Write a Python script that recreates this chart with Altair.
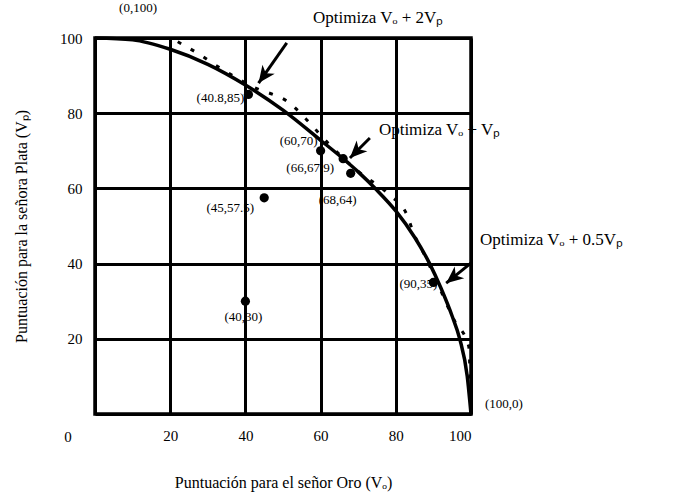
import altair as alt
import pandas as pd

# Frontera de puntuaciones (curva continua)
solid_x = [0, 10, 20, 30, 40, 50, 60, 66, 70, 75, 80, 85, 89, 92, 95, 97, 99, 100]
solid_y = [100, 99.5, 97, 93, 87.5, 80.8, 72.8, 67.9, 64.4, 59.5, 54, 47, 40, 33.5, 26, 20, 10, 0]

# Frontera alternativa (curva discontinua)
dashed_x = [22, 28, 32.5, 42, 52, 57, 62, 70, 78, 83, 84.6, 87, 91, 95.5, 99.4, 100]
dashed_y = [99, 95.5, 92.5, 87, 82.5, 77.5, 72, 64.5, 58.5, 52.9, 48.4, 43.6, 35, 25, 18, 0]

# Acuerdos posibles
pt_x = [0, 40.8, 60, 66, 68, 45, 40, 90, 100]
pt_y = [100, 85, 70, 67.9, 64, 57.5, 30, 35, 0]
pt_label = ["(0,100)", "(40.8,85)", "(60,70)", "(66,67.9)", "(68,64)",
            "(45,57.5)", "(40,30)", "(90,35)", "(100,0)"]
# Los extremos de la frontera se rotulan sin punto
pt_dot = [False, True, True, True, True, True, True, True, False]

# Flechas: origen (x0, y0) y punta (x1, y1)
arrow_x0 = [51, 73.1, 100.3]
arrow_y0 = [98.7, 73.4, 40.4]
arrow_x1 = [43.5, 67.8, 93.4]
arrow_y1 = [88, 68.1, 34.8]

# Rótulos de las flechas
note_text = ["Optimiza Vₒ + 2Vₚ", "Optimiza Vₒ + Vₚ", "Optimiza Vₒ + 0.5Vₚ"]
note_x = [58, 75.5, 102.4]
note_y = [105.3, 75.5, 46.3]

FONT = "Liberation Serif"
W = H = 376

solid = pd.DataFrame({"x": solid_x, "y": solid_y})
dashed = pd.DataFrame({"x": dashed_x, "y": dashed_y})
pts = pd.DataFrame({"x": pt_x, "y": pt_y, "label": pt_label, "dot": pt_dot})
arrows = pd.DataFrame({"x0": arrow_x0, "y0": arrow_y0, "x1": arrow_x1, "y1": arrow_y1,
                       "ang": [216, 225, 231]})
notes = pd.DataFrame({"x": note_x, "y": note_y, "t": note_text})

ticks = [0, 20, 40, 60, 80, 100]
xs = alt.Scale(domain=[0, 100], nice=False)
ys = alt.Scale(domain=[0, 100], nice=False)

axis_common = dict(values=ticks, grid=True, gridColor="black", gridWidth=3,
                   gridOpacity=1, domain=False, ticks=False,
                   labelExpr="datum.value == 0 ? '' : datum.label",
                   labelFont=FONT, labelFontSize=15, labelColor="black",
                   titleFont=FONT, titleFontSize=16, titleFontWeight="normal",
                   titleColor="black")

x_enc = alt.X("x:Q", scale=xs,
              axis=alt.Axis(title="Puntuación para el señor Oro (Vₒ)",
                            labelPadding=14, titlePadding=31, **axis_common))
y_enc = alt.Y("y:Q", scale=ys,
              axis=alt.Axis(title="Puntuación para la señora Plata (Vₚ)",
                            labelPadding=13, titlePadding=30, **axis_common))

solid_line = alt.Chart(solid).mark_line(color="black", strokeWidth=3.5,
                                        interpolate="monotone").encode(x=x_enc, y=y_enc)

dashed_line = alt.Chart(dashed).mark_line(color="black", strokeWidth=3,
                                          strokeDash=[4, 11],
                                          interpolate="monotone").encode(x="x:Q", y="y:Q")

dots = alt.Chart(pts[pts["dot"]]).mark_circle(color="black", size=85, opacity=1).encode(
    x="x:Q", y="y:Q")

# Desplazamientos de cada rótulo respecto a su punto
offsets = {
    "(0,100)": dict(dx=43, dy=-30, align="center"),
    "(40.8,85)": dict(dx=-28, dy=4, align="center"),
    "(60,70)": dict(dx=-3, dy=-10, align="right"),
    "(66,67.9)": dict(dx=-33, dy=9, align="center"),
    "(68,64)": dict(dx=-13, dy=27, align="center"),
    "(45,57.5)": dict(dx=-10, dy=10, align="right"),
    "(40,30)": dict(dx=-2, dy=16, align="center"),
    "(90,35)": dict(dx=4, dy=2, align="right"),
    "(100,0)": dict(dx=14, dy=-10, align="left"),
}
label_layers = []
for lab, o in offsets.items():
    label_layers.append(
        alt.Chart(pts[pts["label"] == lab]).mark_text(
            font=FONT, fontSize=13, color="black", baseline="middle", **o
        ).encode(x="x:Q", y="y:Q", text="label:N")
    )

shafts = alt.Chart(arrows).mark_rule(color="black", strokeWidth=3).encode(
    x="x0:Q", y="y0:Q", x2="x1:Q", y2="y1:Q")

heads = alt.Chart(arrows).mark_point(
    shape="M0,0 L0.8,1.8 L0,1.3 L-0.8,1.8 Z", filled=True, color="black",
    size=360, opacity=1
).encode(x="x1:Q", y="y1:Q", angle=alt.Angle("ang:Q", scale=None))

note_marks = alt.Chart(notes).mark_text(
    font=FONT, fontSize=17, color="black", align="left", baseline="middle"
).encode(x="x:Q", y="y:Q", text="t:N")

# Rótulo común del origen, en la esquina
origin = alt.Chart(pd.DataFrame({"t": ["0"]})).mark_text(
    font=FONT, fontSize=15, color="black"
).encode(x=alt.value(-27), y=alt.value(H + 23), text="t:N")

chart = alt.layer(
    solid_line, dashed_line, dots, *label_layers, shafts, heads, note_marks, origin
).properties(
    width=W, height=H,
    autosize=alt.AutoSizeParams(type="none"),
    padding={"left": 95, "top": 38, "right": 204, "bottom": 83},
    background="white",
).configure_view(stroke="black", strokeWidth=3.5)

chart.save("out.html", embed_options={"renderer": "svg", "actions": False})
